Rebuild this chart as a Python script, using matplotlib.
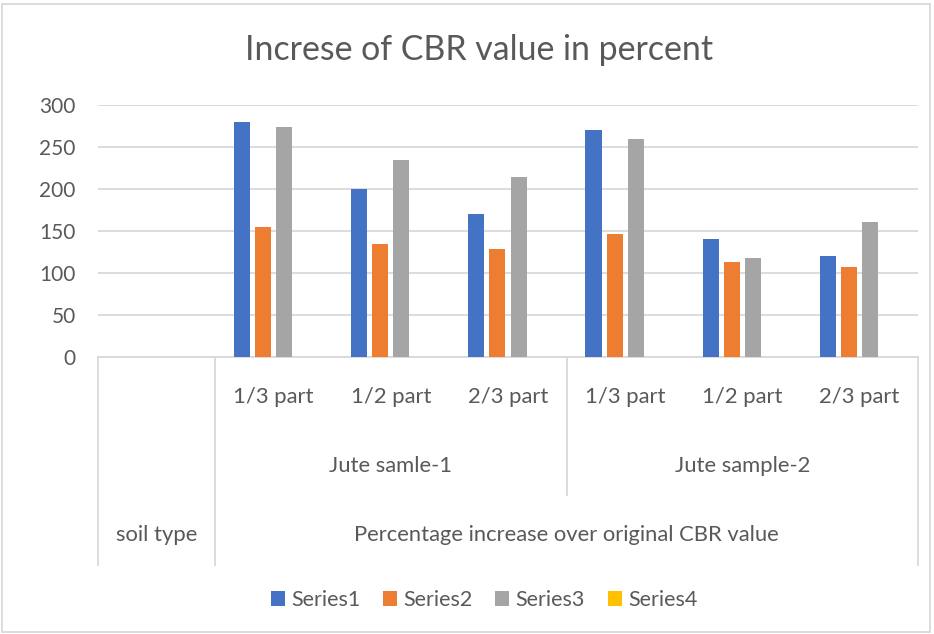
import numpy as np
import matplotlib
matplotlib.use("Agg")
import matplotlib.pyplot as plt
import matplotlib.transforms as mtransforms
from matplotlib.patches import Rectangle

plt.rcParams["font.family"] = ["Lato", "DejaVu Sans"]

# data
parts = ["", "1/3 part", "1/2 part", "2/3 part", "1/3 part", "1/2 part", "2/3 part"]
samples = ["Jute samle-1", "Jute sample-2"]
top_level = ["soil type", "Percentage increase over original CBR value"]
series_names = ["Series1", "Series2", "Series3", "Series4"]
series1 = [np.nan, 280, 200, 170, 270, 140, 120]
series2 = [np.nan, 155, 134, 128, 147, 113.5, 107]
series3 = [np.nan, 274, 234, 214, 260, 118, 161]
series4 = [np.nan, np.nan, np.nan, np.nan, np.nan, np.nan, np.nan]
colors = ["#4472C4", "#ED7D31", "#A5A5A5", "#FFC000"]

text_col = "#595959"
grid_col = "#D9D9D9"

fig = plt.figure(figsize=(9.34, 6.34), dpi=100)
ax = fig.add_axes([98/934, 1-357/634, 820/934, 252/634])

x = np.arange(len(parts))
slot = 0.18
width = 0.137
all_series = [series1, series2, series3, series4]
for i, (vals, name, c) in enumerate(zip(all_series, series_names, colors)):
    ax.bar(x + (i - 1.5) * slot, vals, width, color=c, label=name, zorder=3)

ax.set_xlim(-0.5, len(parts) - 0.5)
ax.set_ylim(0, 300)
ax.set_yticks(np.arange(0, 301, 50))
ax.yaxis.grid(True, color=grid_col, linewidth=1.3, zorder=0)
for s in ["top", "right", "left"]:
    ax.spines[s].set_visible(False)
ax.spines["bottom"].set_color(grid_col)
ax.spines["bottom"].set_linewidth(1.3)
ax.tick_params(axis="y", length=0, pad=16, labelsize=15, labelcolor=text_col)
ax.set_xticks([])

# multi-level category axis
fs = 15.8
trans = mtransforms.blended_transform_factory(ax.transData, ax.transAxes)
for xi, lab in zip(x, parts):
    ax.text(xi, -0.159, lab, transform=trans, ha="center", va="center",
            fontsize=fs, color=text_col)
ax.text(2, -0.433, samples[0], transform=trans, ha="center", va="center",
        fontsize=fs, color=text_col)
ax.text(5, -0.433, samples[1], transform=trans, ha="center", va="center",
        fontsize=fs, color=text_col)
ax.text(0, -0.706, top_level[0], transform=trans, ha="center", va="center",
        fontsize=fs, color=text_col)
ax.text(3.5, -0.706, top_level[1], transform=trans, ha="center", va="center",
        fontsize=fs, color=text_col)

for xv, yb in [(-0.5, -0.825), (0.5, -0.825), (3.5, -0.548), (6.5, -0.825)]:
    ax.plot([xv, xv], [0, yb], transform=trans, color=grid_col, lw=1.3,
            clip_on=False)

fig.text(479/934, 1-50/634, "Increse of CBR value in percent", ha="center",
         va="center", fontsize=24.4, color=text_col)

leg = fig.legend(loc="center", bbox_to_anchor=(484/934, 1-600/634), ncol=4,
                 frameon=False, fontsize=15.5, handlelength=0.65, handleheight=0.65,
                 handletextpad=0.3, columnspacing=1.05, labelcolor=text_col)

fig.patches.append(Rectangle((2/934, 2/634), 928/934, 628/634, transform=fig.transFigure,
                             fill=False, edgecolor=grid_col, lw=1.3))

fig.savefig("out.png", dpi=100)
